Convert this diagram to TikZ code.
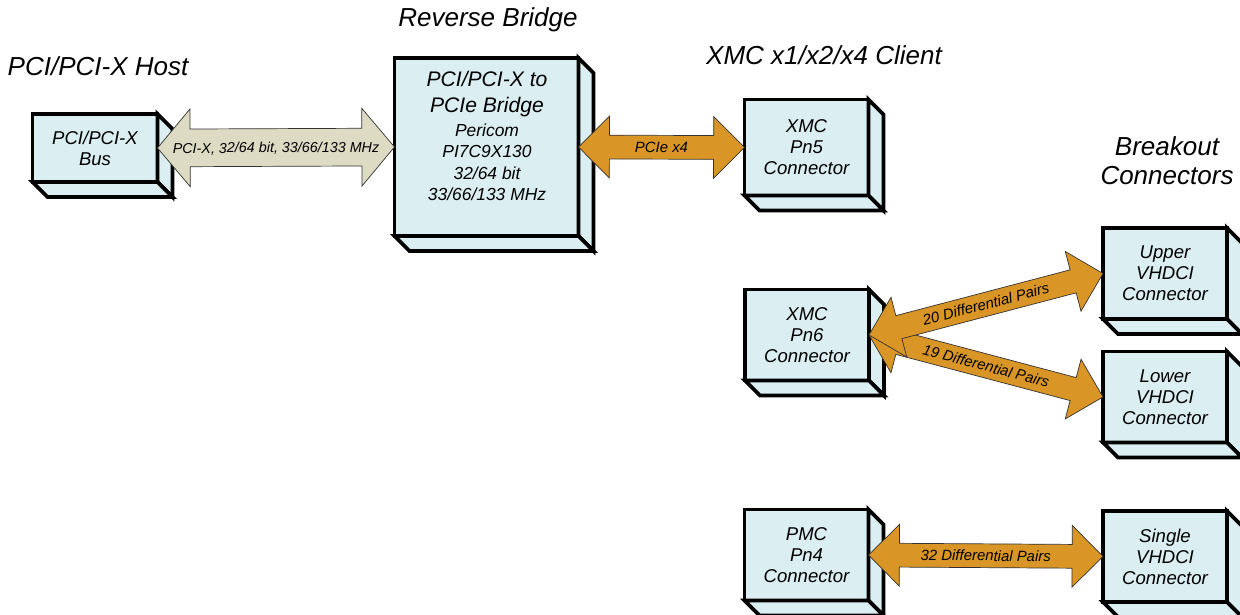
\documentclass[tikz,border=0pt]{standalone}
\usepackage{fontspec}
\setmainfont{Liberation Sans}
\usetikzlibrary{shapes.arrows,calc}

\definecolor{boxblue}{RGB}{219,238,242}
\definecolor{pcitan}{RGB}{222,219,196}
\definecolor{lanegold}{RGB}{217,150,38}

% side and bottom faces of a block
\newcommand\slab[2][15]{%
  \filldraw[face] (#2.north east) -- ++(#1,#1) -- ($(#2.south east)+(#1,#1)$) -- (#2.south east) -- cycle;
  \filldraw[face] (#2.south west) -- ++(#1,#1) -- ($(#2.south east)+(#1,#1)$) -- (#2.south east) -- cycle;}

% fat double arrow between two points
\newcommand\fatlink[5][lane]{%
  \path let \p1=($(#3)-(#2)$), \n1={atan2(\y1,\x1)}, \n2={veclen(\x1,\y1)} in
    node[#1, minimum height=\n2, rotate=\n1] (#4) at ($(#2)!0.5!(#3)$) {\makebox[0pt]{#5}};}

\begin{document}
\begin{tikzpicture}[x=0.025cm, y=-0.025cm,
    box/.style={draw, line width=2.7pt, fill=boxblue, inner sep=0pt, outer sep=0pt,
      align=center, font=\itshape\fontsize{13.2}{15}\selectfont,
      minimum width=3.1cm, minimum height=2.275cm},
    face/.style={draw, line width=2.7pt, fill=boxblue},
    title/.style={font=\itshape\fontsize{18.5}{20.6}\selectfont, align=center},
    lane/.style={double arrow, draw=black!80, line width=0.5pt, fill=lanegold, inner sep=0pt,
      double arrow tip angle=90, double arrow head extend=13.5pt,
      text height=11.9pt, text depth=4.5pt, font=\itshape\fontsize{10.6}{12}\selectfont},
    widelane/.style={lane, fill=pcitan, double arrow tip angle=100, double arrow head extend=14.2pt,
      text height=16.9pt, text depth=9.4pt, font=\itshape\fontsize{10.2}{12}\selectfont}]
    \useasboundingbox (0,0) rectangle (1240,615);
    \clip (0,0) rectangle (1240,615);

    % titles
    \node[title] (hosttitle) at (98,66) {PCI/PCI-X Host};
    \node[title] (bridgetitle) at (488,20) {Reverse Bridge};
    \node[title] (clienttitle) at (824,55) {XMC x1/x2/x4 Client};
    \node[title] (breakouttitle) at (1167,161) {Breakout\\Connectors};

    % blocks
    \node[box, minimum width=3.125cm, minimum height=1.7cm] (bus) at (95,148) {PCI/PCI-X\\Bus};
    \slab{bus}
    \node[box, minimum width=4.6cm, minimum height=4.45cm] (bridge) at (486.5,147) {};
    \slab{bridge}
    \node[align=center, font=\itshape\fontsize{12.4}{15}\selectfont] (bridgetext) at (487,136)
      {{\fontsize{15}{18}\selectfont PCI/PCI-X to}\\[3.5pt]{\fontsize{15}{18}\selectfont PCIe Bridge}\\[2pt]Pericom\\PI7C9X130\\32/64 bit\\33/66/133 MHz};
    \node[box, minimum height=2.4cm] (pn5) at (806.5,147.5) {XMC\\Pn5\\Connector};
    \slab{pn5}
    \node[box] (pn6) at (807,335) {XMC\\Pn6\\Connector};
    \slab{pn6}
    \node[box] (upper) at (1165,273.5) {Upper\\VHDCI\\Connector};
    \slab{upper}
    \node[box] (lower) at (1165,397) {Lower\\VHDCI\\Connector};
    \slab{lower}
    \node[box] (pn4) at (806.5,555) {PMC\\Pn4\\Connector};
    \slab{pn4}
    \node[box] (single) at (1165,556.5) {Single\\VHDCI\\Connector};
    \slab{single}

    % links
    \fatlink[widelane]{bus.east}{bridge.west}{pcix}{PCI-X, 32/64 bit, 33/66/133 MHz}
    \fatlink{bridge.east}{pn5.west}{pcie}{PCIe x4}
    \fatlink{pn6.east}{lower.west}{lowpairs}{19 Differential Pairs}
    \fatlink{pn6.east}{upper.west}{uppairs}{20 Differential Pairs}
    \fatlink{pn4.east}{single.west}{pmcpairs}{32 Differential Pairs}
\end{tikzpicture}
\end{document}
